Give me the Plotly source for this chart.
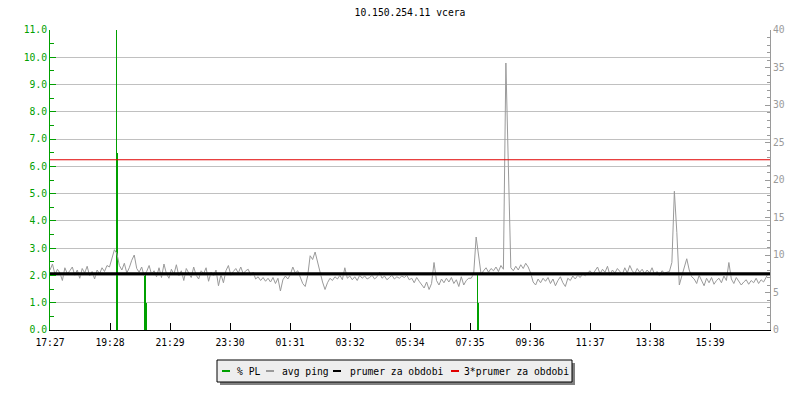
import plotly.graph_objects as go

# ---------------- data ----------------
title_text = "10.150.254.11 vcera"
tick_labels = ["17:27", "19:28", "21:29", "23:30", "01:31", "03:32",
               "05:34", "07:35", "09:36", "11:37", "13:38", "15:39"]
span_minutes = 1453          # shown time span (minutes)
sample_step_min = 5          # avg ping sample step (minutes)

avg_ping_ms = [
    8.0, 8.8, 7.4, 8.1, 7.6, 6.6, 8.3, 7.5, 7.9, 8.4,
    7.3, 8.0, 6.9, 8.2, 7.6, 8.5, 7.2, 7.8, 6.8, 8.0,
    7.5, 8.3, 7.8, 8.6, 8.4, 9.6, 10.7, 10.2, 8.6, 8.0,
    8.9, 7.6, 8.3, 9.3, 10.0, 8.2, 7.7, 8.4, 7.2, 7.8,
    8.6, 7.4, 7.9, 7.1, 8.3, 7.0, 8.8, 7.5, 6.9, 8.1,
    7.4, 8.7, 7.2, 7.9, 6.6, 8.2, 7.6, 7.0, 8.4, 7.3,
    6.8, 7.9, 7.5, 8.3, 6.5, 7.7, 7.2, 8.0, 5.9, 7.4,
    6.3, 7.9, 8.6, 7.3, 7.8, 8.2, 7.6, 8.4, 7.5, 7.9,
    8.1, 7.3, 7.7, 6.8, 7.1, 6.6, 7.0, 6.5, 6.9, 6.4,
    7.0, 6.2, 6.9, 5.2, 6.7, 7.2, 6.8, 7.4, 8.4, 7.6,
    7.9, 6.9, 6.2, 5.8, 7.2, 9.9, 9.4, 10.4, 9.0, 7.6,
    6.4, 5.4, 6.3, 6.9, 6.6, 7.1, 6.8, 7.3, 6.7, 8.3,
    6.9, 7.2, 6.7, 7.1, 6.6, 7.3, 6.9, 7.2, 6.8, 7.0,
    7.3, 6.8, 7.1, 7.7, 6.9, 7.2, 6.7, 7.0, 7.3, 6.8,
    7.1, 6.9, 7.2, 7.0, 7.3, 6.7, 6.9, 6.3, 7.0, 6.5,
    6.1, 5.6, 6.4, 5.4, 6.2, 9.0, 6.6, 6.0, 6.8, 6.3,
    6.9, 6.4, 7.0, 6.2, 6.7, 5.8, 7.1, 6.0, 6.6, 6.9,
    6.9, 7.5, 12.4, 9.5, 7.4, 7.9, 8.3, 7.7, 8.2, 7.9,
    8.4, 7.8, 8.6, 8.1, 35.6, 21.8, 8.3, 7.9, 8.5, 8.0,
    8.7, 8.2, 8.9, 8.4, 7.6, 6.4, 6.0, 6.8, 6.3, 6.9,
    6.5, 7.0, 6.2, 6.8, 5.9, 6.6, 7.1, 6.3, 5.8, 6.9,
    6.6, 7.2, 6.8, 7.3, 7.0, 7.5, 7.2, 7.6, 7.9, 7.4,
    7.9, 8.4, 7.5, 8.1, 7.7, 8.5, 7.3, 8.0, 7.6, 8.2,
    7.8, 7.4, 8.3, 7.6, 8.6, 7.9, 7.5, 8.2, 7.7, 8.1,
    7.5, 8.0, 7.6, 8.3, 7.4, 7.8, 7.2, 7.9, 7.6, 7.7,
    7.8, 9.0, 18.5, 13.0, 6.0, 7.2, 8.3, 9.5, 8.0, 7.1,
    6.8, 6.2, 7.3, 6.5, 5.9, 6.9, 6.3, 7.0, 6.1, 6.6,
    6.9, 6.3, 7.2, 6.6, 9.0, 6.8, 6.2, 7.0, 6.5, 6.0,
    6.4, 6.7, 6.1, 6.6, 6.3, 6.9, 6.2, 6.7, 6.4, 7.0, 7.6,
]

# packet-loss events: start time (min), short peak value, level value (%)
pl_start_min = [133.2, 191.7, 861.7]
pl_peak = [11.0, 2.0, 2.0]
pl_level = [6.5, 1.0, 1.0]

prumer_ms = 7.5            # average for the period
trojnasobek_ms = 22.7      # 3*average line as drawn

legend_names = ["% PL", "avg ping", "prumer za obdobi", "3*prumer za obdobi"]

# ---------------- style ----------------
GREEN = "#00a000"
GRAY = "#9a9a9a"
GRID = "#c0c0c0"
RED = "#e00000"
FONT = "DejaVu Sans Mono"
FS = 9.7

L, R, T, B = 50, 30, 30, 70
W, H = 800, 400
PW, PH = W - L - R, H - T - B
min_per_px = span_minutes / PW


def px_x(x):
    return (x - L) / PW


def px_y(y):
    return (H - B - y) / PH


ping_t = [i * sample_step_min for i in range(len(avg_ping_ms))]

fig = go.Figure()

# packet loss bars (level part, 2 px wide) and thin peak (1 px wide)
fig.add_trace(go.Bar(x=pl_start_min, y=pl_level, width=[2 * min_per_px] * len(pl_start_min),
                     offset=0, marker=dict(color=GREEN, line=dict(width=0)),
                     yaxis="y", showlegend=False))
fig.add_trace(go.Bar(x=pl_start_min, y=pl_peak, width=[0.9 * min_per_px] * len(pl_start_min),
                     offset=0, marker=dict(color=GREEN, line=dict(width=0)),
                     yaxis="y", showlegend=False))

fig.add_trace(go.Scatter(x=ping_t, y=avg_ping_ms, mode="lines",
                         line=dict(color=GRAY, width=1), yaxis="y2", showlegend=False))

fig.add_trace(go.Scatter(x=[0, span_minutes], y=[prumer_ms, prumer_ms], mode="lines",
                         line=dict(color="black", width=3), yaxis="y2", showlegend=False))
fig.add_trace(go.Scatter(x=[0, span_minutes], y=[trojnasobek_ms, trojnasobek_ms], mode="lines",
                         line=dict(color=RED, width=1), yaxis="y2", showlegend=False))

tickvals = [i * span_minutes / 12 for i in range(len(tick_labels))]

fig.update_layout(
    width=W, height=H,
    margin=dict(l=L, r=R, t=T, b=B, pad=0),
    paper_bgcolor="white", plot_bgcolor="white",
    font=dict(family=FONT, size=FS, color="black"),
    bargap=0, barmode="overlay",
    showlegend=False,
    title=dict(text=title_text, x=0.5, xref="paper", y=1 - 13 / H, yanchor="middle",
               font=dict(family=FONT, size=FS, color="black")),
    xaxis=dict(range=[0, span_minutes], tickvals=tickvals, ticktext=tick_labels,
               showgrid=False, zeroline=False, showline=True, linecolor="black", linewidth=1,
               ticks="inside", ticklen=7, tickcolor="black", tickwidth=1,
               ticklabelstandoff=3,
               tickfont=dict(family=FONT, size=FS, color="black")),
    yaxis=dict(range=[0, 11], dtick=1, tickformat=".1f", showgrid=True, gridcolor=GRID,
               gridwidth=1, zeroline=False, showline=True, linecolor=GREEN, linewidth=1,
               ticks="inside", ticklen=6, tickcolor=GREEN,
               minor=dict(dtick=0.5, ticks="inside", ticklen=4, tickcolor=GREEN, showgrid=False),
               tickfont=dict(family=FONT, size=FS, color=GREEN)),
    yaxis2=dict(range=[0, 40], dtick=5, overlaying="y", side="right", showgrid=False,
                zeroline=False, showline=True, linecolor=GRAY, linewidth=1,
                ticks="inside", ticklen=5, tickcolor=GRAY,
                minor=dict(dtick=1, ticks="inside", ticklen=3, tickcolor=GRAY, showgrid=False),
                tickfont=dict(family=FONT, size=FS, color=GRAY)),
)

# ---------------- manual legend ----------------
box = (217, 360, 572, 382)
shapes = [
    dict(type="rect", xref="paper", yref="paper",
         x0=px_x(box[0] + 3), x1=px_x(box[2] + 3), y0=px_y(box[3] + 3), y1=px_y(box[1] + 3),
         fillcolor="#808080", line=dict(width=0), layer="below"),
    dict(type="rect", xref="paper", yref="paper",
         x0=px_x(box[0]), x1=px_x(box[2]), y0=px_y(box[3]), y1=px_y(box[1]),
         fillcolor="#eeeeee", line=dict(color="black", width=1)),
]
legend_colors = [GREEN, GRAY, "black", RED]
swatch_x = [222, 266, 333, 451]
text_x = [235, 280, 348, 462]
ly = 371
annotations = []
for name, col, sx, tx in zip(legend_names, legend_colors, swatch_x, text_x):
    shapes.append(dict(type="line", xref="paper", yref="paper",
                       x0=px_x(sx), x1=px_x(sx + 8), y0=px_y(ly), y1=px_y(ly),
                       line=dict(color=col, width=2)))
    annotations.append(dict(text=name, xref="paper", yref="paper", x=px_x(tx), y=px_y(ly),
                            xanchor="left", yanchor="middle", showarrow=False,
                            font=dict(family=FONT, size=FS, color="black")))
fig.update_layout(shapes=shapes, annotations=annotations)

fig.write_html("out.html", config={"displayModeBar": False},
               post_script="document.body.style.margin='0px';document.body.style.overflow='hidden';")
